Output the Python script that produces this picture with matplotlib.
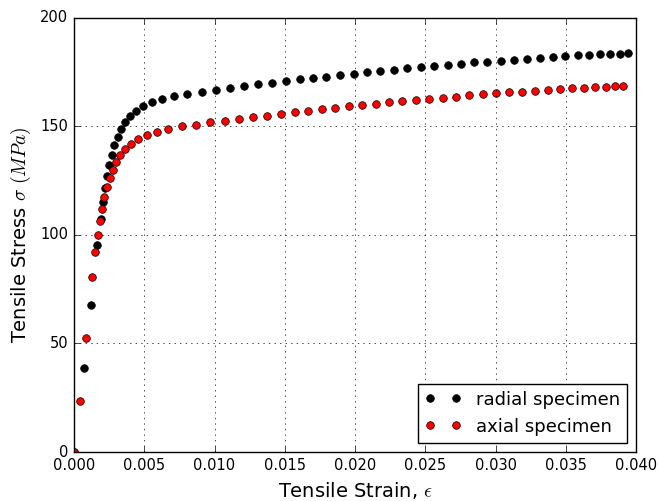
import matplotlib
matplotlib.use('Agg')
import matplotlib.pyplot as plt

# radial specimen
radial_strain = [
    0.0, 0.00071, 0.00121, 0.00166, 0.0019, 0.00204, 0.0022, 0.00235,
    0.00251, 0.00268, 0.00287, 0.00311, 0.00336, 0.00365, 0.0040, 0.00443,
    0.00494, 0.00553, 0.00626, 0.00709, 0.00806, 0.00908, 0.0101, 0.01112,
    0.01211, 0.01311, 0.0141, 0.01508, 0.01605, 0.01702, 0.01797, 0.01894,
    0.01991, 0.02086, 0.02181, 0.02278, 0.02373, 0.02468, 0.02563, 0.0266,
    0.02755, 0.02847, 0.02942, 0.03037, 0.03132, 0.03224, 0.03317, 0.03409,
    0.03497, 0.03585, 0.03665, 0.03743, 0.03814, 0.03883, 0.03945,
]
radial_stress = [
    0.0, 38.6, 67.6, 95.6, 107.3, 115.0, 121.6, 127.2,
    132.2, 137.0, 141.3, 145.2, 148.9, 151.9, 154.7, 157.2,
    159.4, 161.1, 162.6, 163.9, 165.1, 166.0, 167.0, 167.8,
    168.5, 169.4, 170.2, 171.0, 171.7, 172.2, 173.0, 173.8,
    174.4, 175.0, 175.8, 176.2, 176.8, 177.5, 178.1, 178.5,
    179.0, 179.5, 179.9, 180.4, 180.8, 181.2, 181.6, 182.1,
    182.6, 182.8, 183.0, 183.3, 183.5, 183.6, 183.9,
]

# axial specimen
axial_strain = [
    0.0, 0.00041, 0.00083, 0.0013, 0.00151, 0.00171, 0.00187, 0.00199,
    0.00216, 0.00235, 0.00254, 0.00275, 0.00299, 0.00329, 0.00365, 0.00408,
    0.00457, 0.00516, 0.00588, 0.00672, 0.0077, 0.00871, 0.00967, 0.01076,
    0.01176, 0.01275, 0.01375, 0.01472, 0.0157, 0.01666, 0.01762, 0.01858,
    0.01954, 0.0205, 0.02146, 0.02243, 0.02338, 0.02432, 0.02527, 0.02624,
    0.02719, 0.02814, 0.02909, 0.03001, 0.03096, 0.03191, 0.03284, 0.03373,
    0.03462, 0.03547, 0.03629, 0.03706, 0.03784, 0.0385, 0.0391,
]
axial_stress = [
    0.0, 23.7, 52.4, 80.5, 92.2, 99.9, 106.5, 112.2,
    117.3, 121.9, 126.2, 130.1, 133.8, 136.8, 139.6, 142.1,
    144.2, 146.0, 147.5, 148.9, 150.1, 150.9, 151.9, 152.7,
    153.6, 154.4, 155.0, 155.9, 156.7, 157.3, 158.1, 158.7,
    159.3, 159.9, 160.5, 161.1, 161.8, 162.4, 162.8, 163.3,
    163.8, 164.4, 164.8, 165.3, 165.8, 166.1, 166.5, 166.9,
    167.3, 167.6, 167.8, 168.1, 168.2, 168.5, 168.7,
]


def plot_stress_strain():
    plt.style.use('classic')
    plt.rcParams['mathtext.fontset'] = 'cm'

    fig = plt.figure(figsize=(6.59, 5.01), dpi=100)
    ax = fig.add_axes([0.1123, 0.0978, 0.8528, 0.8663])

    ax.plot(radial_strain, radial_stress, 'o', color='black',
            markeredgecolor='black', markersize=5.5, label='radial specimen')
    ax.plot(axial_strain, axial_stress, 'o', color='red',
            markeredgecolor='black', markersize=5.5, label='axial specimen')

    ax.set_xlim(0, 0.040)
    ax.set_ylim(0, 200)
    ax.set_xticks([0.000, 0.005, 0.010, 0.015, 0.020, 0.025, 0.030, 0.035, 0.040])
    ax.set_yticks([0, 50, 100, 150, 200])
    ax.xaxis.set_major_formatter(matplotlib.ticker.FormatStrFormatter('%.3f'))
    ax.tick_params(labelsize=10.5)
    ax.grid(True, which='major', linestyle=':', color='black')

    ax.set_xlabel(r'Tensile Strain, $\epsilon$', fontsize=14)
    ax.set_ylabel(r'Tensile Stress $\sigma$ $(MPa)$', fontsize=14)

    ax.legend(loc='lower right', numpoints=2, fontsize=13)

    fig.savefig('out.png', dpi=100)


if __name__ == '__main__':
    plot_stress_strain()
